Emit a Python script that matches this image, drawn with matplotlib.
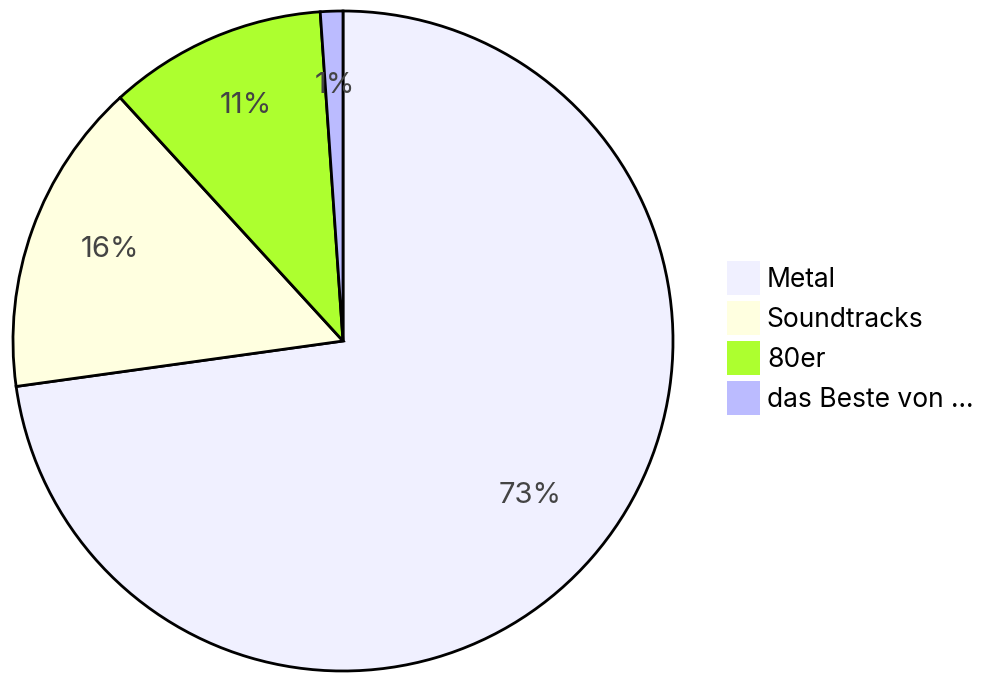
import matplotlib
matplotlib.use("Agg")
import matplotlib.pyplot as plt
import matplotlib.patches as mpatches
import numpy as np

plt.rcParams['font.family'] = ['Inter', 'DejaVu Sans']

# shares of the pie and the printed labels
genres = ["Metal", "Soundtracks", "80er", "das Beste von ..."]
shares = [72.8, 15.4, 10.7, 1.1]
pct_labels = ["73%", "16%", "11%", "1%"]
colours = ["#f0f0ff", "#ffffe0", "#adff2f", "#bbbbff"]

W, H = 982, 674
fig = plt.figure(figsize=(W / 100, H / 100), dpi=100)

# pie centre (343, 341) px, radius 330 px
cx, cy, r = 343, 341, 330
ax = fig.add_axes([(cx - r) / W, (H - cy - r) / H, 2 * r / W, 2 * r / H])

wedges, _ = ax.pie(shares, colors=colours, startangle=90, counterclock=False,
                   wedgeprops=dict(edgecolor="black", linewidth=2, clip_on=False))
ax.set_xlim(-1, 1)
ax.set_ylim(-1, 1)
ax.set_aspect("equal")
ax.axis("off")

# percentage labels inside the wedges
total = sum(shares)
start = 90.0
lift = 8 / r
for share, lab in zip(shares, pct_labels):
    mid = start - share / total * 360 / 2
    start -= share / total * 360
    d = 0.75
    ax.text(d * np.cos(np.radians(mid)), d * np.sin(np.radians(mid)) + lift, lab,
            ha="center", va="center", fontsize=21, color="#444444")

handles = [mpatches.Patch(facecolor=c, edgecolor="none") for c in colours]
fs = 19
fig.legend(handles, genres, loc="upper left",
           bbox_to_anchor=(727 / W, 1 - 261 / H), frameon=False,
           fontsize=fs, handlelength=24 / fs, handleheight=1.6,
           handletextpad=0.25, labelspacing=0.23, borderpad=0, borderaxespad=0)

fig.savefig("out.png", dpi=100)
